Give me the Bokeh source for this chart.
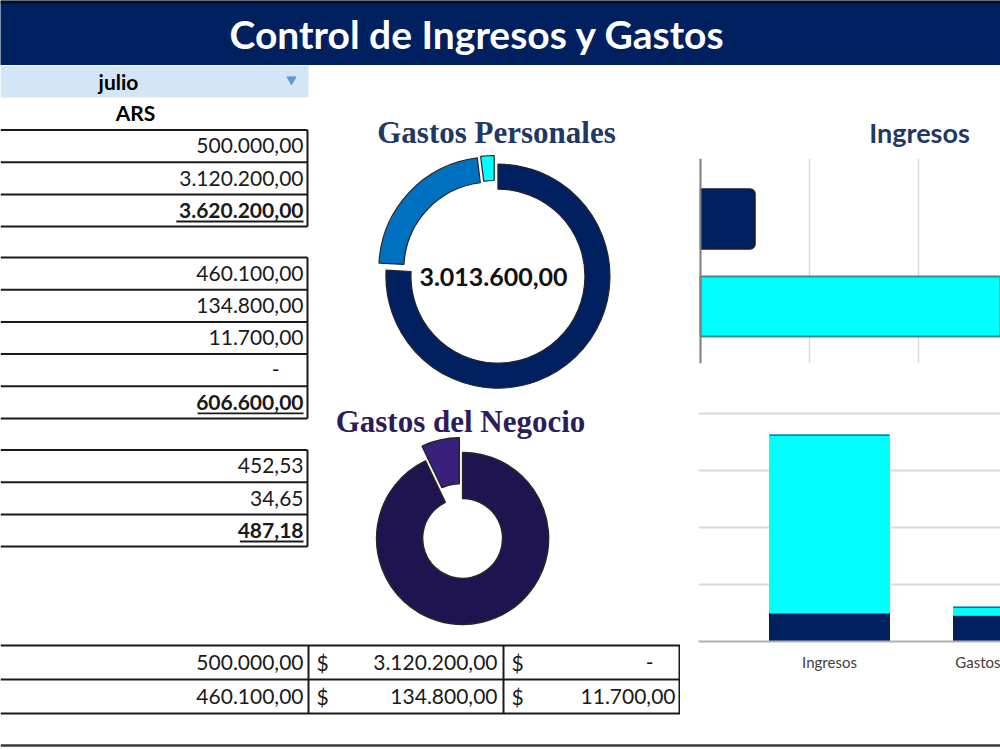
import math
from bokeh.plotting import figure
from bokeh.models import Range1d, ColumnDataSource, Grid, SingleIntervalTicker, FixedTicker, Span
from bokeh.layouts import column, row
from bokeh.embed import file_html
from bokeh.resources import INLINE
from bokeh.core.properties import value

# ---------------- data ----------------
titulo = "Control de Ingresos y Gastos"
mes = "julio"
moneda = "ARS"
ingresos = [500000.00, 3120200.00]
total_ingresos = 3620200.00
gastos_personales = [460100.00, 134800.00, 11700.00, 0.00]
total_gastos_personales = 606600.00
gastos_negocio = [452.53, 34.65]
total_gastos_negocio = 487.18
saldo_personal = 3013600.00
titulo_personales = "Gastos Personales"
titulo_negocio = "Gastos del Negocio"
titulo_ingresos = "Ingresos"
resumen_categorias = ["Ingresos", "Gastos"]
resumen_serie1 = [500000.00, 460100.00]
resumen_serie2 = [3120200.00, 134800.00]
resumen_serie3 = [0.00, 11700.00]

# ---------------- styles ----------------
NAVY = "#002060"
SANS = "Lato"
SERIF = "Liberation Serif"
col_personales = ["#002060", "#0070C0", "#00FFFF", "#7F7F7F"]
col_negocio = ["#1F1450", "#3B1F7D"]
col_resumen = ["#002060", "#00FFFF", "#0070C0"]
col_ingresos = ["#002060", "#00FFFF"]


def fmt(v):
    if abs(v) < 1e-9:
        return "-"
    s = f"{v:,.2f}"
    return s.replace(",", "X").replace(".", ",").replace("X", ".")


def bl(y, fs):
    # wanted visual baseline -> y to pass (renderer places alphabetic text ~0.37em lower)
    return y - 0.37 * fs


def canvas(w, h, x0, x1, y_top, y_bottom, left=0):
    p = figure(width=w, height=h, x_range=Range1d(x0, x1), y_range=Range1d(y_bottom, y_top),
               output_backend="svg", toolbar_location=None,
               x_axis_location=None, y_axis_location=None, min_border=0)
    p.min_border_left = left
    p.grid.visible = False
    p.outline_line_color = None
    return p


def label(p, x, y, t, fs, color="#000000", font=SANS, bold=True, align="center"):
    p.text(x=[x], y=[bl(y, fs)], text=[t], text_align=align, text_baseline="alphabetic",
           text_color=color, text_font=value(font), text_font_style="bold" if bold else "normal",
           text_font_size=f"{fs}px")


# ---------------- title band ----------------
p_t = canvas(1000, 65, 0, 1000, 0, 65)
p_t.background_fill_color = NAVY
p_t.border_fill_color = NAVY
p_t.quad(left=[0], right=[1000], top=[0], bottom=[3], fill_color="#0b0b1a", line_color=None)
label(p_t, 477, 48, titulo, 39, color="white")

# ---------------- left canvas: tables + donuts ----------------
p_l = canvas(680, 670, 0, 680, 65, 735)
p_l.quad(left=[0], right=[308], top=[65], bottom=[97], fill_color="#D4E5F5", line_color=None)
label(p_l, 118, 89, mes, 21)
p_l.scatter(x=[291], y=[79], marker="inverted_triangle", size=9, color="#5B9BD5")
label(p_l, 135, 120, moneda, 21)

FS = 21
ROW_H = 32.2
bloques = [
    (129.5, ingresos + [total_ingresos]),
    (257.0, gastos_personales + [total_gastos_personales]),
    (449.5, gastos_negocio + [total_gastos_negocio]),
]
seg = dict(x0=[], y0=[], x1=[], y1=[])
txt = dict(x=[], y=[], t=[])
txtb = dict(x=[], y=[], t=[])
und = dict(x0=[], y0=[], x1=[], y1=[])
RIGHT = 303
for top, vals in bloques:
    n = len(vals)
    for i in range(n + 1):
        yy = top + i * ROW_H
        seg["x0"].append(0); seg["x1"].append(307); seg["y0"].append(yy); seg["y1"].append(yy)
    seg["x0"].append(307); seg["x1"].append(307); seg["y0"].append(top); seg["y1"].append(top + n * ROW_H)
    for i, v in enumerate(vals):
        s = fmt(v)
        xr = RIGHT - (24 if s == "-" else 0)
        yb = top + (i + 0.5) * ROW_H + 7.5
        if i == n - 1:
            txtb["x"].append(xr); txtb["y"].append(bl(yb, FS)); txtb["t"].append(s)
            w = len(s) * 10.6
            und["x0"].append(xr - w); und["x1"].append(xr); und["y0"].append(yb + 3.5); und["y1"].append(yb + 3.5)
        else:
            txt["x"].append(xr); txt["y"].append(bl(yb, FS)); txt["t"].append(s)

# bottom summary table
B_TOP = 645
B_H = 34
col_right = [303, 497, 675]
col_dollar = [None, 316, 511]
series = [resumen_serie1, resumen_serie2, resumen_serie3]
dol = dict(x=[], y=[], t=[])
for r in range(len(resumen_categorias) + 1):
    yy = B_TOP + r * B_H
    seg["x0"].append(0); seg["x1"].append(680); seg["y0"].append(yy); seg["y1"].append(yy)
for xv in [308, 503, 679]:
    seg["x0"].append(xv); seg["x1"].append(xv); seg["y0"].append(B_TOP)
    seg["y1"].append(B_TOP + len(resumen_categorias) * B_H)
for r in range(len(resumen_categorias)):
    yb = B_TOP + (r + 0.5) * B_H + 7.5
    for c, ser in enumerate(series):
        s = fmt(ser[r])
        xr = col_right[c] - (22 if s == "-" else 0)
        txt["x"].append(xr); txt["y"].append(bl(yb, FS)); txt["t"].append(s)
        if col_dollar[c] is not None:
            dol["x"].append(col_dollar[c]); dol["y"].append(bl(yb, FS)); dol["t"].append("$")

p_l.segment(x0="x0", y0="y0", x1="x1", y1="y1", source=ColumnDataSource(seg),
            line_color="#1a1a1a", line_width=2)
p_l.text(x="x", y="y", text="t", source=ColumnDataSource(txt), text_align="right",
         text_baseline="alphabetic", text_color="#1a1a1a", text_font=value(SANS), text_font_size=f"{FS}px")
p_l.text(x="x", y="y", text="t", source=ColumnDataSource(dol), text_align="left",
         text_baseline="alphabetic", text_color="#1a1a1a", text_font=value(SANS), text_font_size=f"{FS}px")
p_l.text(x="x", y="y", text="t", source=ColumnDataSource(txtb), text_align="right",
         text_baseline="alphabetic", text_color="#1a1a1a", text_font=value(SANS),
         text_font_style="bold", text_font_size=f"{FS}px")
p_l.segment(x0="x0", y0="y0", x1="x1", y1="y1", source=ColumnDataSource(und),
            line_color="#1a1a1a", line_width=1.8)


def donut(vals, colors, cx, cy, explode, r_in, r_out):
    total = float(sum(vals))
    acc = 0.0
    d = dict(x=[], y=[], s=[], e=[], c=[], ri=[], ro=[])
    for v, c, ex in zip(vals, colors, explode):
        t1 = acc / total * 360.0
        acc += v
        t2 = acc / total * 360.0
        if v <= 0:
            continue
        tm = math.radians((t1 + t2) / 2)
        d["x"].append(cx + ex * math.sin(tm))
        d["y"].append(cy - ex * math.cos(tm))
        d["s"].append(math.radians(90 - t2))
        d["e"].append(math.radians(90 - t1))
        d["c"].append(c)
        d["ri"].append(r_in)
        d["ro"].append(r_out)
    return ColumnDataSource(d)


src_p = donut(gastos_personales, col_personales, 494, 272, [5, 5, 5, 5], 87, 112)
p_l.annular_wedge(x="x", y="y", inner_radius="ri", outer_radius="ro", start_angle="s", end_angle="e",
                  inner_radius_units="screen", outer_radius_units="screen",
                  fill_color="c", line_color="#262626", line_width=1.2, source=src_p)
src_n = donut(gastos_negocio, col_negocio, 461, 533, [5, 10], 40, 86)
p_l.annular_wedge(x="x", y="y", inner_radius="ri", outer_radius="ro", start_angle="s", end_angle="e",
                  inner_radius_units="screen", outer_radius_units="screen",
                  fill_color="c", line_color="#262626", line_width=1.5, source=src_n)

label(p_l, 493, 285.5, fmt(saldo_personal), 25, color="#111111")
label(p_l, 496, 143, titulo_personales, 31, color="#1F3864", font=SERIF)
label(p_l, 460, 432, titulo_negocio, 31, color="#2A1D5A", font=SERIF)

# ---------------- right column (frames share left edge at page x = 698) ----------------
LEFT_B = 18
FRAME_W = 320 - LEFT_B

p_b1t = canvas(320, 85, 698, 1000, 65, 150, left=LEFT_B)
label(p_b1t, 919, 142, titulo_ingresos, 27, color="#1F3864")

PX_M1 = 109.0  # pixels per million
x1_start = -2.0 / PX_M1 * 1e6
x1_end = x1_start + FRAME_W / PX_M1 * 1e6
p_b1 = figure(width=320, height=220, x_range=Range1d(x1_start, x1_end), y_range=Range1d(2.651, 0.309),
              output_backend="svg", toolbar_location=None, x_axis_location=None, y_axis_location=None,
              min_border_left=LEFT_B, min_border_right=0, min_border_top=8, min_border_bottom=7)
p_b1.outline_line_color = None
p_b1.grid.visible = False
p_b1.add_layout(Grid(dimension=0, ticker=SingleIntervalTicker(interval=1_000_000),
                     grid_line_color="#d9d9d9", grid_line_width=1.5))
p_b1.hbar(y=[1], left=0, right=[ingresos[0]], height=0.686, fill_color=col_ingresos[0],
          line_color="#1a1a2a", line_width=1.5, border_radius=(0, 5, 5, 0))
p_b1.hbar(y=[2], left=0, right=[ingresos[1]], height=0.686, fill_color=col_ingresos[1],
          line_color="#3d8c8c", line_width=2)
p_b1.add_layout(Span(location=0, dimension="height", line_color="#7f7f7f", line_width=2))

PX_M2 = 57.0
PX_CAT = 184.0
x2_start = 1 - (829 - 698) / PX_CAT
x2_end = x2_start + FRAME_W / PX_CAT
src2 = ColumnDataSource(dict(x=[1, 2], s1=resumen_serie1, s2=resumen_serie2, s3=resumen_serie3))
p_b2 = figure(width=320, height=365, x_range=Range1d(x2_start, x2_end),
              y_range=Range1d(0, 243 / PX_M2 * 1e6),
              output_backend="svg", toolbar_location=None, y_axis_location=None,
              min_border_left=LEFT_B, min_border_right=0, min_border_top=28, min_border_bottom=94)
p_b2.outline_line_color = None
p_b2.xgrid.visible = False
p_b2.add_layout(Grid(dimension=1, ticker=SingleIntervalTicker(interval=1_000_000),
                     grid_line_color="#d9d9d9", grid_line_width=2))
p_b2.vbar_stack(["s1", "s2", "s3"], x="x", width=0.652, fill_color=col_resumen,
                line_color=col_resumen, line_width=1, source=src2)
ax = p_b2.xaxis[0]
edge_tick = round(x2_end - 0.01, 3)  # 2nd category sits past the visible edge; label shown at the border
ax.ticker = FixedTicker(ticks=[1, edge_tick])
ax.major_label_overrides = {1: resumen_categorias[0], edge_tick: resumen_categorias[1]}
ax.major_tick_line_color = None
ax.minor_tick_line_color = None
ax.axis_line_color = "#b0b0b0"
ax.axis_line_width = 2
ax.major_label_standoff = 5
ax.major_label_text_font = SANS
ax.major_label_text_font_size = "15px"
ax.major_label_text_color = "#404040"

# ---------------- footer line ----------------
p_f = canvas(1000, 15, 0, 1000, 735, 750)
p_f.segment(x0=[0], y0=[745], x1=[1000], y1=[745], line_color="#3a3a3a", line_width=2.5)

layout = column(p_t, row(p_l, column(p_b1t, p_b1, p_b2)), p_f)
open("out.html", "w").write(file_html(layout, INLINE))
